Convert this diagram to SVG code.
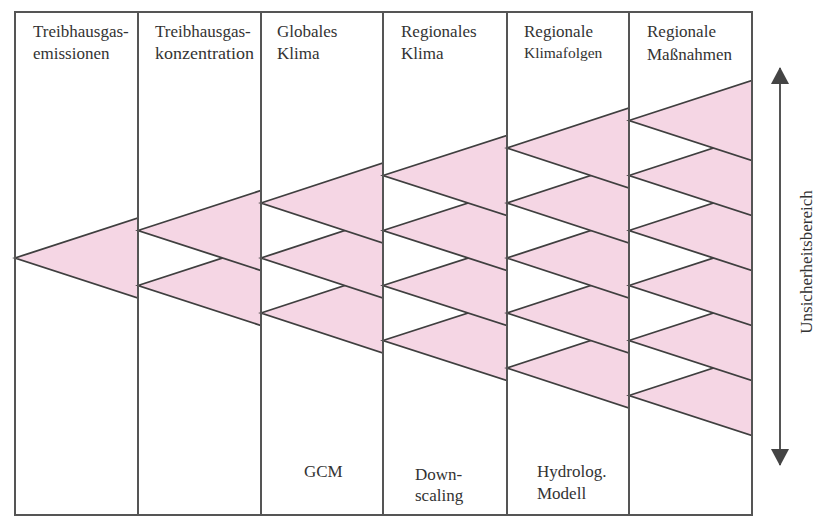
<svg xmlns="http://www.w3.org/2000/svg" width="816" height="517" viewBox="0 0 816 517">
<defs>
<style>
.tri{fill:#f5d6e4;stroke:#3f3f3f;stroke-width:1.8;stroke-linejoin:miter}
.col{fill:none;stroke:#555;stroke-width:2}
.t{font-family:"Liberation Serif","Times New Roman",serif;font-size:17px;fill:#333}
.s{font-size:15.5px}
</style>
<marker id="ah" viewBox="0 0 17 18" refX="16" refY="9" markerWidth="17" markerHeight="18" markerUnits="userSpaceOnUse" orient="auto-start-reverse">
<path d="M0,0 L17,9 L0,18 z" fill="#444"/>
</marker>
</defs>
<rect x="0" y="0" width="816" height="517" fill="#fff"/>

<g id="col1">
<polygon class="tri" points="15,258 138,218 138,298"/>
<text class="t" x="33" y="37">Treibhausgas-</text>
<text class="t" x="33" y="59">emissionen</text>
</g>

<g id="col2">
<polygon class="tri" points="138,285.5 261,245.5 261,325.5"/>
<polygon class="tri" points="138,230.5 261,190.5 261,270.5"/>
<text class="t" x="155" y="37">Treibhausgas-</text>
<text class="t" x="155" y="59" textLength="99" lengthAdjust="spacingAndGlyphs">konzentration</text>
</g>

<g id="col3">
<polygon class="tri" points="261,313 383,273 383,353"/>
<polygon class="tri" points="261,258 383,218 383,298"/>
<polygon class="tri" points="261,203 383,163 383,243"/>
<text class="t" x="277" y="37">Globales</text>
<text class="t" x="277" y="59">Klima</text>
<text class="t" x="304" y="477">GCM</text>
</g>

<g id="col4">
<polygon class="tri" points="383,340.5 507,300.5 507,380.5"/>
<polygon class="tri" points="383,285.5 507,245.5 507,325.5"/>
<polygon class="tri" points="383,230.5 507,190.5 507,270.5"/>
<polygon class="tri" points="383,175.5 507,135.5 507,215.5"/>
<text class="t" x="401" y="37">Regionales</text>
<text class="t" x="401" y="59">Klima</text>
<text class="t" x="415" y="480">Down-</text>
<text class="t" x="415" y="501">scaling</text>
</g>

<g id="col5">
<polygon class="tri" points="507,368 629,328 629,408"/>
<polygon class="tri" points="507,313 629,273 629,353"/>
<polygon class="tri" points="507,258 629,218 629,298"/>
<polygon class="tri" points="507,203 629,163 629,243"/>
<polygon class="tri" points="507,148 629,108 629,188"/>
<text class="t" x="524" y="37">Regionale</text>
<text class="t s" x="524" y="58">Klimafolgen</text>
<text class="t" x="537" y="477">Hydrolog.</text>
<text class="t" x="537" y="499">Modell</text>
</g>

<g id="col6">
<polygon class="tri" points="629,395.5 752,355.5 752,435.5"/>
<polygon class="tri" points="629,340.5 752,300.5 752,380.5"/>
<polygon class="tri" points="629,285.5 752,245.5 752,325.5"/>
<polygon class="tri" points="629,230.5 752,190.5 752,270.5"/>
<polygon class="tri" points="629,175.5 752,135.5 752,215.5"/>
<polygon class="tri" points="629,120.5 752,80.5 752,160.5"/>
<text class="t" x="647" y="37">Regionale</text>
<text class="t" x="647" y="60">Maßnahmen</text>
</g>

<g id="frame">
<rect class="col" x="15" y="12" width="737" height="503"/>
<line class="col" x1="138" y1="12" x2="138" y2="515"/>
<line class="col" x1="261" y1="12" x2="261" y2="515"/>
<line class="col" x1="383" y1="12" x2="383" y2="515"/>
<line class="col" x1="507" y1="12" x2="507" y2="515"/>
<line class="col" x1="629" y1="12" x2="629" y2="515"/>
</g>

<g id="connectors">
<line x1="780" y1="68" x2="780" y2="465" stroke="#555" stroke-width="2" marker-start="url(#ah)" marker-end="url(#ah)"/>
</g>

<g id="label-range">
<text class="t" transform="translate(812,262) rotate(-90)" text-anchor="middle" style="font-size:17px">Unsicherheitsbereich</text>
</g>
</svg>
